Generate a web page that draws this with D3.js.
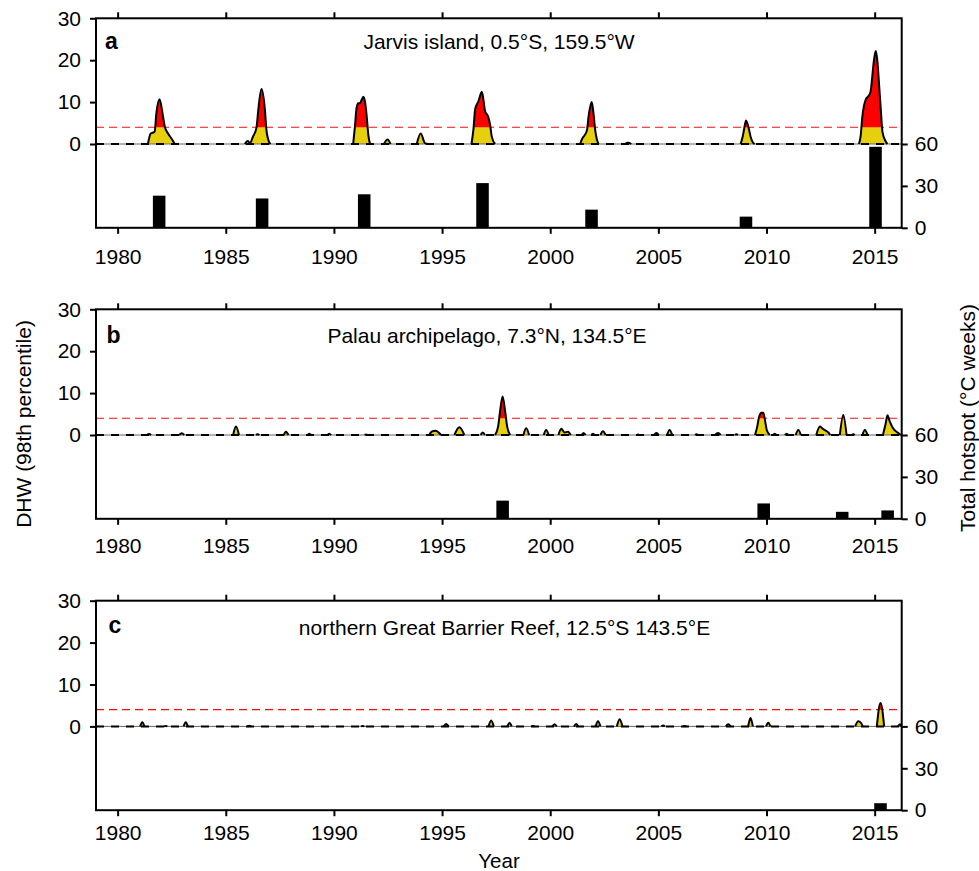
<!DOCTYPE html>
<html>
<head>
<meta charset="utf-8">
<script src="https://cdn.jsdelivr.net/npm/d3@7"></script>
<style>
  body { margin: 0; background: #fff; }
  svg { display: block; font-family: "Liberation Sans", Arial, sans-serif; }
</style>
</head>
<body>
<div id="chart"></div>
<script>
// ---- data ----
const years = [1980, 1985, 1990, 1995, 2000, 2005, 2010, 2015];
const dhwTicks = [0, 10, 20, 30];
const hotspotTicks = [0, 30, 60];
const threshold = 4;

const titles = [
  "Jarvis island, 0.5°S, 159.5°W",
  "Palau archipelago, 7.3°N, 134.5°E",
  "northern Great Barrier Reef, 12.5°S 143.5°E"
];
const letters = ["a", "b", "c"];

// DHW events, each one a run of [year, DHW] starting and ending at 0
const jarvisDHW = [
  [[1981.40, 0], [1981.53, 2.5], [1981.71, 2.9], [1981.79, 7.3], [1981.94, 10.7], [1982.10, 6.5], [1982.18, 4.1], [1982.33, 2.5], [1982.49, 1.3], [1982.64, 0]],
  [[1985.88, 0], [1986.02, 0.7], [1986.12, 0.2], [1986.26, 1.8], [1986.42, 3.9], [1986.50, 8.0], [1986.65, 13.1], [1986.81, 8.1], [1986.88, 3.3], [1986.96, 1.1], [1987.07, 0]],
  [[1990.89, 0], [1990.97, 4.1], [1991.05, 8.7], [1991.13, 9.7], [1991.20, 9.7], [1991.28, 10.5], [1991.36, 11.3], [1991.44, 10.0], [1991.51, 6.9], [1991.59, 2.2], [1991.67, 0]],
  [[1992.31, 0], [1992.48, 1.1], [1992.62, 0]],
  [[1993.83, 0], [1994.01, 2.5], [1994.21, 0.2], [1994.35, 0]],
  [[1996.36, 0], [1996.45, 3.5], [1996.53, 8.3], [1996.68, 10.2], [1996.84, 12.5], [1996.99, 7.8], [1997.14, 6.4], [1997.22, 4.6], [1997.30, 1.7], [1997.45, 0]],
  [[2001.39, 0], [2001.47, 1.2], [2001.55, 1.8], [2001.70, 3.3], [2001.77, 6.5], [2001.85, 8.9], [2001.92, 10.0], [2002.01, 6.9], [2002.08, 3.3], [2002.16, 1.0], [2002.24, 0]],
  [[2003.45, 0], [2003.60, 0.3], [2003.75, 0]],
  [[2008.80, 0], [2008.90, 1.8], [2008.97, 3.7], [2009.05, 5.6], [2009.11, 5.0], [2009.18, 3.7], [2009.26, 1.8], [2009.38, 0.3], [2009.45, 0]],
  [[2014.27, 0], [2014.35, 1.8], [2014.43, 6.5], [2014.58, 10.5], [2014.72, 11.5], [2014.81, 12.5], [2014.97, 20.1], [2015.05, 22.2], [2015.12, 20.1], [2015.20, 14.5], [2015.28, 8.5], [2015.36, 2.9], [2015.51, 0.6], [2015.59, 0]]
];

const palauDHW = [
  [[1981.35, 0], [1981.45, 0.25], [1981.55, 0]],
  [[1982.85, 0], [1982.96, 0.4], [1983.08, 0]],
  [[1985.34, 0], [1985.47, 2.0], [1985.61, 0]],
  [[1986.40, 0], [1986.47, 0.2], [1986.55, 0]],
  [[1987.68, 0], [1987.78, 0.8], [1987.90, 0]],
  [[1988.78, 0], [1988.86, 0.3], [1988.95, 0]],
  [[1989.70, 0], [1989.78, 0.3], [1989.87, 0]],
  [[1991.42, 0], [1991.48, 0.1], [1991.55, 0]],
  [[1994.40, 0], [1994.55, 0.9], [1994.70, 1.0], [1994.95, 0]],
  [[1995.57, 0], [1995.80, 1.85], [1996.03, 0]],
  [[1996.78, 0], [1996.88, 0.6], [1996.98, 0]],
  [[1997.45, 0], [1997.59, 2.0], [1997.69, 6.0], [1997.80, 9.2], [1997.92, 5.5], [1998.01, 2.0], [1998.15, 0]],
  [[1998.76, 0], [1998.89, 1.6], [1999.02, 0]],
  [[1999.70, 0], [1999.81, 1.2], [1999.93, 0]],
  [[2000.38, 0], [2000.51, 1.5], [2000.66, 0.6], [2000.82, 0.8], [2000.95, 0]],
  [[2001.45, 0], [2001.54, 0.5], [2001.64, 0]],
  [[2001.90, 0], [2001.98, 0.3], [2002.06, 0]],
  [[2002.32, 0], [2002.44, 0.9], [2002.56, 0]],
  [[2004.00, 0], [2004.06, 0.1], [2004.12, 0]],
  [[2004.80, 0], [2004.91, 0.5], [2005.02, 0]],
  [[2005.40, 0], [2005.52, 1.2], [2005.64, 0]],
  [[2006.70, 0], [2006.76, 0.2], [2006.83, 0]],
  [[2007.62, 0], [2007.76, 0.5], [2007.88, 0]],
  [[2008.54, 0], [2008.61, 0.2], [2008.68, 0]],
  [[2009.47, 0], [2009.57, 2.0], [2009.65, 4.2], [2009.77, 5.3], [2009.85, 5.3], [2009.93, 3.5], [2010.01, 1.2], [2010.15, 0]],
  [[2010.30, 0], [2010.38, 0.3], [2010.46, 0]],
  [[2010.85, 0], [2010.93, 0.3], [2011.01, 0]],
  [[2011.35, 0], [2011.47, 1.2], [2011.59, 0]],
  [[2012.30, 0], [2012.47, 2.0], [2012.62, 1.4], [2012.72, 1.1], [2012.86, 0.6], [2012.95, 0]],
  [[2013.39, 0], [2013.55, 4.8], [2013.70, 0]],
  [[2013.95, 0], [2014.01, 0.2], [2014.08, 0]],
  [[2014.43, 0], [2014.55, 1.2], [2014.67, 0]],
  [[2015.38, 0], [2015.50, 2.5], [2015.59, 4.7], [2015.70, 3.2], [2015.85, 1.6], [2016.08, 0.5], [2016.22, 0]]
];

const gbrDHW = [
  [[1981.04, 0], [1981.14, 1.0], [1981.24, 0]],
  [[1982.15, 0], [1982.22, 0.1], [1982.30, 0]],
  [[1983.05, 0], [1983.15, 1.0], [1983.25, 0]],
  [[1986.00, 0], [1986.08, 0.15], [1986.16, 0]],
  [[1991.25, 0], [1991.33, 0.1], [1991.41, 0]],
  [[1995.08, 0], [1995.19, 0.6], [1995.30, 0]],
  [[1997.15, 0], [1997.27, 1.4], [1997.39, 0]],
  [[1998.02, 0], [1998.12, 0.8], [1998.22, 0]],
  [[1999.12, 0], [1999.20, 0.1], [1999.28, 0]],
  [[2000.10, 0], [2000.20, 0.5], [2000.30, 0]],
  [[2001.10, 0], [2001.20, 0.6], [2001.30, 0]],
  [[2002.10, 0], [2002.21, 1.2], [2002.32, 0]],
  [[2003.08, 0], [2003.21, 1.7], [2003.34, 0]],
  [[2005.14, 0], [2005.22, 0.2], [2005.30, 0]],
  [[2006.14, 0], [2006.22, 0.1], [2006.30, 0]],
  [[2008.12, 0], [2008.23, 0.5], [2008.34, 0]],
  [[2009.15, 0], [2009.26, 2.0], [2009.37, 0]],
  [[2009.98, 0], [2010.08, 0.9], [2010.18, 0]],
  [[2014.10, 0], [2014.24, 1.2], [2014.36, 0.9], [2014.45, 0]],
  [[2015.10, 0], [2015.27, 5.6], [2015.44, 0]],
  [[2016.08, 0], [2016.17, 0.5], [2016.25, 0]]
];

// total hotspot per event (°C weeks)
const jarvisHotspotYears = [1981.92, 1986.68, 1991.40, 1996.87, 2001.91, 2009.05, 2015.04];
const jarvisHotspot = [23, 21, 24, 32, 13, 8, 58];
const palauHotspotYears = [1997.80, 2009.87, 2013.50, 2015.60];
const palauHotspot = [13, 11, 5, 6];
const gbrHotspotYears = [2015.27];
const gbrHotspot = [5];

const panels = [
  { title: titles[0], letter: letters[0], dhw: jarvisDHW, hy: jarvisHotspotYears, hv: jarvisHotspot },
  { title: titles[1], letter: letters[1], dhw: palauDHW, hy: palauHotspotYears, hv: palauHotspot },
  { title: titles[2], letter: letters[2], dhw: gbrDHW, hy: gbrHotspotYears, hv: gbrHotspot }
];

// ---- layout ----
const W = 979, H = 871;
const left = 96, right = 901.7, panelH = 209.5;
const tops = [18.3, 309.3, 600.7];
const titleX = [499, 487, 504.5];
const titleDy = [30.2, 33.4, 34.3];
const letterX = [105, 106.5, 108.5];
const letterDy = [31, 33.4, 32];
const bottomPad = [15, 13, 9];
const yellow = "#e6cf0c", red = "#ff0000";

const svg = d3.select("#chart").append("svg")
  .attr("width", W).attr("height", H);

const x = d3.scaleLinear().domain([1979, 2016.25]).range([left, right]);

panels.forEach((p, i) => {
  const top = tops[i], bottom = top + panelH;
  const y = d3.scaleLinear().domain([-20, 30]).range([bottom, top]);
  const yh = d3.scaleLinear().domain([0, 60]).range([bottom, y(0)]);
  const g = svg.append("g");

  const clipId = "redclip" + i;
  svg.append("clipPath").attr("id", clipId)
    .append("rect")
    .attr("x", left).attr("y", top)
    .attr("width", right - left).attr("height", y(threshold) - top);

  // hotspot bars
  const barHalf = 0.29;
  g.selectAll("rect.bar")
    .data(p.hy.map((yr, k) => [yr, p.hv[k]]))
    .enter().append("rect")
    .attr("class", "bar")
    .attr("x", (d) => x(d[0] - barHalf))
    .attr("width", (d) => x(d[0] + barHalf) - x(d[0] - barHalf))
    .attr("y", (d) => yh(d[1]))
    .attr("height", (d) => bottom - yh(d[1]))
    .style("fill", "black");

  // threshold line
  g.append("line")
    .attr("x1", left).attr("x2", right)
    .attr("y1", y(threshold)).attr("y2", y(threshold))
    .style("stroke", "#f01010").style("stroke-width", 1.2)
    .style("stroke-dasharray", "8,5");

  const area = d3.area()
    .x((d) => x(d[0]))
    .y0(y(0))
    .y1((d) => y(d[1]))
    .curve(d3.curveMonotoneX);
  const line = d3.line()
    .x((d) => x(d[0]))
    .y((d) => y(d[1]))
    .curve(d3.curveMonotoneX);

  g.selectAll("path.yel").data(p.dhw).enter().append("path")
    .attr("class", "yel").attr("d", area).style("fill", yellow);
  g.append("g").attr("clip-path", "url(#" + clipId + ")")
    .selectAll("path").data(p.dhw).enter().append("path")
    .attr("d", area).style("fill", red);

  // zero line
  g.append("line")
    .attr("x1", left).attr("x2", right)
    .attr("y1", y(0)).attr("y2", y(0))
    .style("stroke", "#666").style("stroke-width", 1);
  g.append("line")
    .attr("x1", left).attr("x2", right)
    .attr("y1", y(0)).attr("y2", y(0))
    .style("stroke", "black").style("stroke-width", 2)
    .style("stroke-dasharray", "8,7");

  g.selectAll("path.dhw").data(p.dhw).enter().append("path")
    .attr("class", "dhw").attr("d", line)
    .style("fill", "none").style("stroke", "black")
    .style("stroke-width", 2).style("stroke-linejoin", "round");

  // frame
  g.append("rect")
    .attr("x", left).attr("y", top)
    .attr("width", right - left).attr("height", panelH)
    .style("fill", "none").style("stroke", "black").style("stroke-width", 2);

  // axes
  const styleAxis = (sel) => {
    sel.select(".domain").remove();
    sel.selectAll(".tick line").style("stroke-width", 2);
    sel.selectAll(".tick text").style("font-size", "21px").style("fill", "black");
  };
  g.append("g").attr("transform", `translate(0,${top})`)
    .call(d3.axisTop(x).tickValues(years).tickSize(6).tickFormat(""))
    .call(styleAxis);
  g.append("g").attr("transform", `translate(0,${bottom})`)
    .call(d3.axisBottom(x).tickValues(years).tickSize(6).tickPadding(bottomPad[i]).tickFormat(d3.format("d")))
    .call(styleAxis);
  g.append("g").attr("transform", `translate(${left},0)`)
    .call(d3.axisLeft(y).tickValues(dhwTicks).tickSize(6).tickPadding(9))
    .call(styleAxis);
  g.append("g").attr("transform", `translate(${right},0)`)
    .call(d3.axisRight(yh).tickValues(hotspotTicks).tickSize(6).tickPadding(7))
    .call(styleAxis);

  // labels
  g.append("text")
    .attr("x", titleX[i]).attr("y", top + titleDy[i])
    .attr("text-anchor", "middle")
    .style("font-size", "21px")
    .text(p.title);
  g.append("text")
    .attr("x", letterX[i]).attr("y", top + letterDy[i])
    .style("font-size", "23px").style("font-weight", "bold")
    .text(p.letter);
});

svg.append("text")
  .attr("transform", "translate(31,424) rotate(-90)")
  .attr("text-anchor", "middle")
  .style("font-size", "21px")
  .text("DHW (98th percentile)");
svg.append("text")
  .attr("transform", "translate(975,418) rotate(-90)")
  .attr("text-anchor", "middle")
  .style("font-size", "21px")
  .text("Total hotspot (°C weeks)");
svg.append("text")
  .attr("x", 499).attr("y", 868)
  .attr("text-anchor", "middle")
  .style("font-size", "20.5px")
  .text("Year");
</script>
</body>
</html>
